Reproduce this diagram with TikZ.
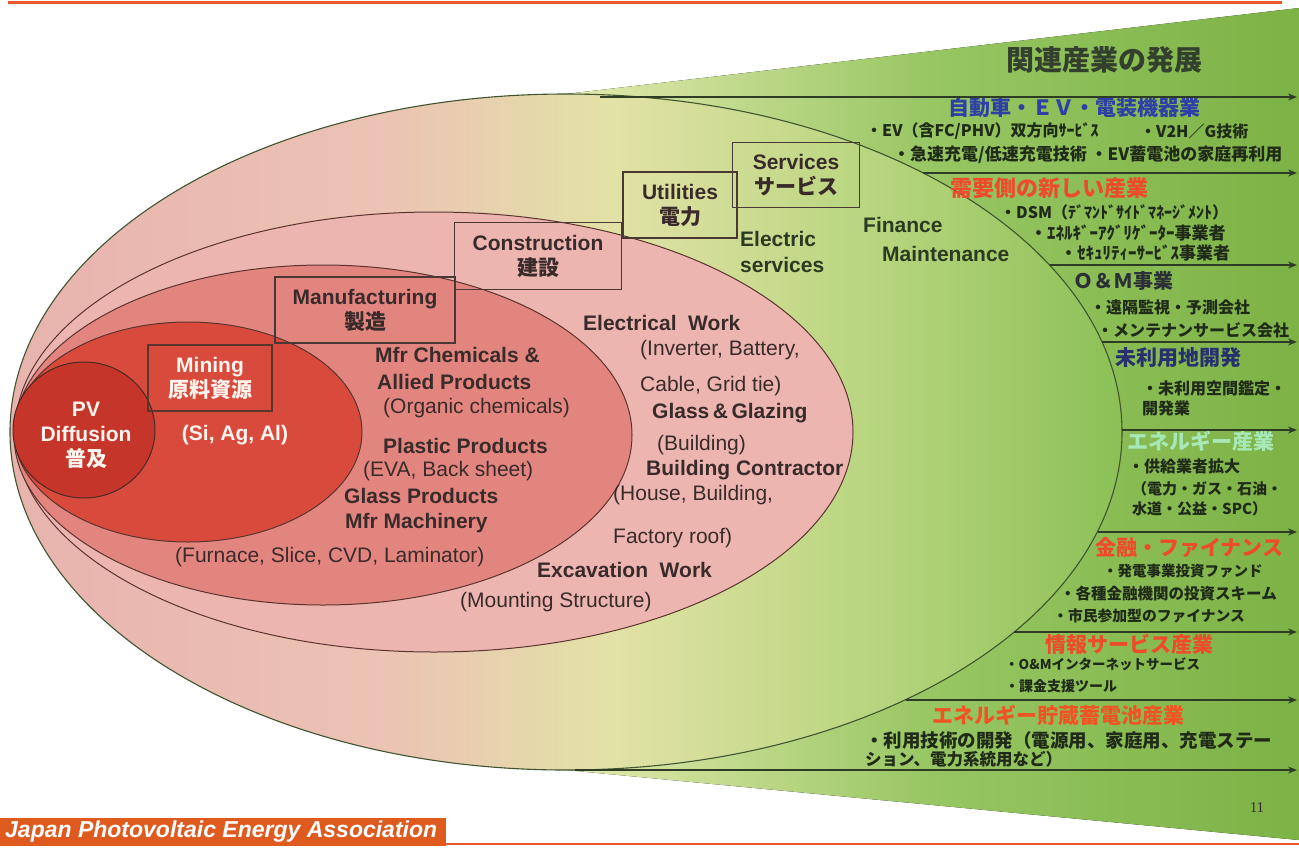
\documentclass[tikz,border=0pt]{standalone}
\usepackage{fontspec}
\usetikzlibrary{arrows.meta}
\setmainfont{Liberation Sans}
\newfontfamily\jp{Noto Sans CJK JP}
\newfontfamily\numfont{Liberation Serif}
\newcommand\fs[1]{\fontsize{#1}{#1}\selectfont}
\definecolor{wedgeL}{HTML}{E4EAB0}
\definecolor{wedgeM}{HTML}{97C662}
\definecolor{wedgeR}{HTML}{7DB246}
\definecolor{outerA}{HTML}{E8B3AE}
\definecolor{outerB}{HTML}{ECC3B4}
\definecolor{outerC}{HTML}{E2E2A6}
\definecolor{outerD}{HTML}{B7D57E}
\definecolor{outerE}{HTML}{8CC056}
\definecolor{constrC}{HTML}{EDB5B0}
\definecolor{manufC}{HTML}{E3857F}
\definecolor{miningC}{HTML}{D84B3C}
\definecolor{pvC}{HTML}{C5352A}
\definecolor{edgeC}{HTML}{5B3430}
\definecolor{outerEdge}{HTML}{3F5530}
\definecolor{boxC}{HTML}{4A3835}
\definecolor{darkT}{HTML}{3A2B2B}
\definecolor{greenT}{HTML}{2C3A22}
\definecolor{whiteT}{HTML}{FFF4EE}
\definecolor{titleC}{HTML}{33402E}
\definecolor{blueH}{HTML}{2E3FA6}
\definecolor{redH}{HTML}{EE4B2B}
\definecolor{navyH}{HTML}{283070}
\definecolor{mintH}{HTML}{A7E8B8}
\definecolor{omC}{HTML}{2B3038}
\definecolor{bodyT}{HTML}{1F2A18}
\definecolor{arrowC}{HTML}{2E3B26}
\definecolor{bannerC}{HTML}{DE5A1F}
\definecolor{lineC}{HTML}{E8582A}
\pgfdeclarehorizontalshading{outershade}{100bp}{color(0bp)=(outerA); color(25bp)=(outerA); color(42bp)=(outerB); color(52bp)=(outerC); color(64bp)=(outerD); color(75bp)=(outerE); color(100bp)=(outerE)}
\begin{document}
\begin{tikzpicture}[x=1pt,y=-1pt,
  ell/.style={draw=edgeC, line width=1pt},
  boxnode/.style={draw=boxC, line width=1.3pt, rectangle, inner sep=0pt, align=center, text=darkT, font=\fontsize{21}{25}\selectfont\bfseries},
  en/.style={inner sep=0pt, anchor=west, text=darkT, font=\fs{21}\bfseries},
  enr/.style={inner sep=0pt, anchor=west, text=darkT, font=\fs{21}},
  jt/.style={inner sep=0pt, anchor=west, text=bodyT, font=\jp\bfseries},
  arr/.style={draw=arrowC, line width=1.5pt, -{Stealth[length=9pt,width=7pt]}}
]
\fill[white] (0,0) rectangle (1299,847);
\useasboundingbox (0,0) rectangle (1299,847);

% top rule
\draw[lineC, line width=3pt] (8,2) -- (1282,2);

% green wedge
\fill[left color=wedgeL, right color=wedgeR, middle color=wedgeM] (566,94) -- (1299,8) -- (1299,840) -- (566,770) -- cycle;

% nested ellipses
\path[draw=outerEdge, line width=1.1pt, shading=outershade] (566,432) ellipse [x radius=556pt, y radius=338pt];
\path[ell, fill=constrC] (434,432) ellipse [x radius=419pt, y radius=220pt];
\path[ell, fill=manufC] (323,435) ellipse [x radius=309pt, y radius=170pt];
\path[ell, fill=miningC] (188,432) ellipse [x radius=174pt, y radius=110pt];
\path[ell, fill=pvC, draw=edgeC!80!black] (84,430) ellipse [x radius=71pt, y radius=68pt];

% PV
\node[align=center, inner sep=0pt, text=whiteT, font=\fontsize{21}{25}\selectfont\bfseries] (pv) at (86,435) {PV\\Diffusion\\{\jp 普及}};

% boxes
\node[boxnode, draw=edgeC, text=whiteT, minimum width=124pt, minimum height=66pt] (mining) at (210,378) {Mining\\{\jp 原料資源}};
\node[boxnode, minimum width=180pt, minimum height=66pt] (manuf) at (365,310) {Manufacturing\\{\jp 製造}};
\node[boxnode, minimum width=167pt, minimum height=67pt] (constr) at (538,256) {Construction\\{\jp 建設}};
\node[boxnode, minimum width=114pt, minimum height=66pt] (util) at (680,205) {Utilities\\{\jp 電力}};
\node[boxnode, minimum width=127pt, minimum height=65pt] (serv) at (796,175) {Services\\{\jp サービス}};

% mining contents
\node[inner sep=0pt, text=whiteT, font=\fs{21}\bfseries] (siagal) at (235,435) {(Si, Ag, Al)};

% manufacturing contents
\node[en] (mfrchem) at (375,355) {Mfr Chemicals \&};
\node[en] (allied) at (377,382) {Allied Products};
\node[enr] (organic) at (383,408) {(Organic chemicals)};
\node[en] (plastic) at (383,446) {Plastic Products};
\node[enr] (eva) at (363,471) {(EVA, Back sheet)};
\node[en] (glassp) at (344,496) {Glass Products};
\node[en] (mfrmach) at (345,523) {Mfr Machinery};
\node[enr] (furnace) at (175,557) {(Furnace, Slice, CVD, Laminator)};

% construction contents
\node[en] (elecwork) at (583,323) {Electrical\ \ Work};
\node[enr] (inverter) at (640,350) {(Inverter, Battery,};
\node[enr] (cable) at (640,386) {Cable, Grid tie)};
\node[en] (glazing) at (652,413) {Glass\,\&\,Glazing};
\node[enr] (building) at (657,445) {(Building)};
\node[en] (contractor) at (646,470) {Building Contractor};
\node[enr] (house) at (613,495) {(House, Building,};
\node[enr] (factory) at (613,538) {Factory roof)};
\node[en] (excav) at (537,570) {Excavation\ \ Work};
\node[enr] (mounting) at (460,602) {(Mounting Structure)};

% utilities / services contents
\node[en, text=greenT] (electric) at (740,239) {Electric};
\node[en, text=greenT] (elserv) at (740,265) {services};
\node[en, text=greenT] (finance) at (863,225) {Finance};
\node[en, text=greenT] (maint) at (882,254) {Maintenance};

% right side: related industries
\node[inner sep=0pt, text=titleC, font=\jp\bfseries\fs{28}] (title) at (1104,60) {関連産業の発展};

\node[jt, text=blueH] (h1) at (948,108) {\fs{21}自動車・ＥＶ・電装機器業};
\node[jt] (h1a) at (866,131) {\fs{16}・EV（含FC/PHV）双方向ｻｰﾋﾞｽ};
\node[jt] (h1b) at (1140,131) {\fs{16}・V2H／G技術};
\node[jt] (h1c) at (893,155) {\fs{17}・急速充電/低速充電技術 ・EV蓄電池の家庭再利用};

\node[jt, text=redH] (h2) at (950,188) {\fs{22}需要側の新しい産業};
\node[jt] (h2a) at (1000,212) {\fs{16}・DSM（ﾃﾞﾏﾝﾄﾞｻｲﾄﾞﾏﾈｰｼﾞﾒﾝﾄ）};
\node[jt] (h2b) at (1030,233) {\fs{17}・ｴﾈﾙｷﾞｰｱｸﾞﾘｹﾞｰﾀｰ事業者};
\node[jt] (h2c) at (1060,253) {\fs{17}・ｾｷｭﾘﾃｨｰｻｰﾋﾞｽ事業者};

\node[jt, text=omC] (h3) at (1073,281) {\fs{20}Ｏ＆Ｍ事業};
\node[jt] (h3a) at (1090,307) {\fs{16}・遠隔監視・予測会社};
\node[jt] (h3b) at (1097,330) {\fs{16}・メンテナンサービス会社};

\node[jt, text=navyH] (h4) at (1115,358) {\fs{21}未利用地開発};
\node[jt] (h4a) at (1142,388) {\fs{16}・未利用空間鑑定・};
\node[jt] (h4b) at (1142,408) {\fs{16}開発業};

\node[jt, text=mintH] (h5) at (1127,441) {\fs{21}エネルギー産業};
\node[jt] (h5a) at (1128,466) {\fs{16}・供給業者拡大};
\node[jt] (h5b) at (1132,489) {\fs{15}（電力・ガス・石油・};
\node[jt] (h5c) at (1132,509) {\fs{15}水道・公益・SPC）};

\node[jt, text=redH] (h6) at (1095,548) {\fs{21}金融・ファイナンス};
\node[jt] (h6a) at (1103,571) {\fs{14.5}・発電事業投資ファンド};
\node[jt] (h6b) at (1060,594) {\fs{15.5}・各種金融機関の投資スキーム};
\node[jt] (h6c) at (1053,616) {\fs{14.8}・市民参加型のファイナンス};

\node[jt, text=redH] (h7) at (1045,644) {\fs{21}情報サービス産業};
\node[jt] (h7a) at (1005,664) {\fs{13.5}・O\&Mインターネットサービス};
\node[jt] (h7b) at (1005,686) {\fs{14}・課金支援ツール};

\node[jt, text=redH!85!orange] (h8) at (932,715) {\fs{21}エネルギー貯蔵蓄電池産業};
\node[jt] (h8a) at (865,740) {\fs{18.5}・利用技術の開発（電源用、家庭用、充電ステー};
\node[jt] (h8b) at (865,759) {\fs{16.5}ション、電力系統用など）};

% arrows
\coordinate (a1s) at (600,97);  \coordinate (a1e) at (1297,97);
\coordinate (a2s) at (923,173); \coordinate (a2e) at (1297,173);
\coordinate (a3s) at (1050,265); \coordinate (a3e) at (1297,265);
\coordinate (a4s) at (1102,342); \coordinate (a4e) at (1297,342);
\coordinate (a5s) at (1122,430); \coordinate (a5e) at (1297,430);
\coordinate (a6s) at (1098,532); \coordinate (a6e) at (1297,532);
\coordinate (a7s) at (1014,632); \coordinate (a7e) at (1297,632);
\coordinate (a8s) at (906,700); \coordinate (a8e) at (1297,700);
\coordinate (a9s) at (575,770); \coordinate (a9e) at (1297,770);
\foreach \i in {1,...,9} {\draw[arr] (a\i s) -- (a\i e);}

% page number
\node[inner sep=0pt, text=darkT, font=\numfont\fs{15}] (pnum) at (1257,808) {11};

% footer banner
\node[fill=bannerC, minimum width=446pt, minimum height=28pt, anchor=north west, inner sep=0pt] (banner) at (0,818) {};
\node[anchor=west, inner sep=0pt, text=white, font=\fs{23}\bfseries\itshape] (bannertext) at (5,832) {Japan Photovoltaic Energy Association};
\coordinate (fl) at (446,844); \coordinate (fr) at (1299,844);
\draw[lineC, line width=2.5pt] (fl) -- (fr);
\end{tikzpicture}
\end{document}
